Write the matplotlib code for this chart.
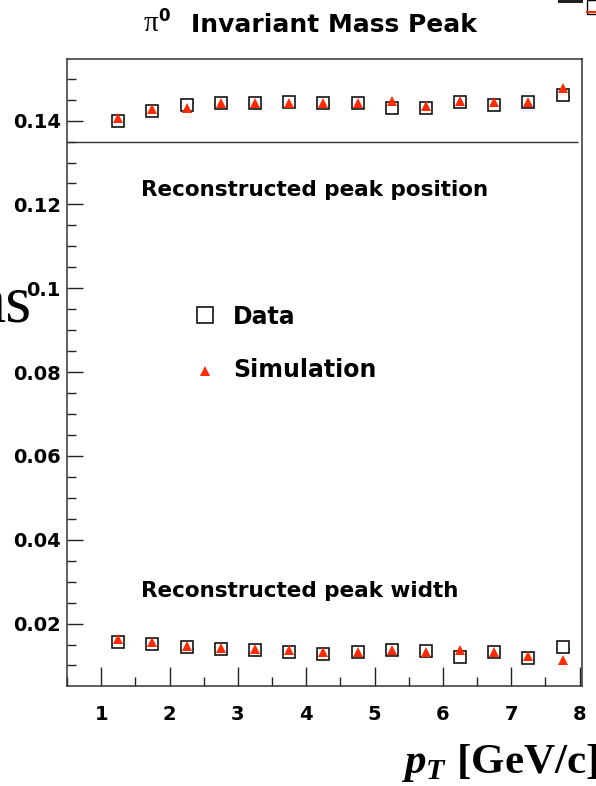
import matplotlib.pyplot as plt
from matplotlib.ticker import MultipleLocator, FuncFormatter
from matplotlib.patches import Rectangle
from matplotlib.lines import Line2D

W, H = 596, 786

# pT bin centres [GeV/c]
pt = [1.25, 1.75, 2.25, 2.75, 3.25, 3.75, 4.25, 4.75, 5.25, 5.75, 6.25, 6.75, 7.25, 7.75]

# reconstructed pi0 peak position [GeV/c^2]
mass_data = [0.1398, 0.1424, 0.1437, 0.1442, 0.1442, 0.1444, 0.1442,
             0.1442, 0.1431, 0.1431, 0.1445, 0.1437, 0.1445, 0.1460]
mass_sim = [0.1407, 0.1428, 0.1429, 0.1441, 0.1441, 0.1441, 0.1441,
            0.1441, 0.1446, 0.1435, 0.1446, 0.1445, 0.1445, 0.1477]

# reconstructed pi0 peak width [GeV/c^2]
width_data = [0.0157, 0.0151, 0.0144, 0.0140, 0.0136, 0.0133, 0.0127,
              0.0132, 0.0137, 0.0134, 0.0121, 0.0133, 0.0119, 0.0144]
width_sim = [0.0164, 0.0157, 0.0146, 0.0141, 0.0139, 0.0137, 0.0133,
             0.0133, 0.0136, 0.0133, 0.0137, 0.0133, 0.0122, 0.0112]

PI0_MASS = 0.135
RED = '#ff2a00'
SANS = 'DejaVu Sans'
SERIF = 'Liberation Serif'


def fx(x):
    return x / W


def fy(y):
    return 1 - y / H


fig = plt.figure(figsize=(W / 100, H / 100), dpi=100)
ax = fig.add_axes([fx(67), fy(686), fx(581.7) - fx(67), fy(59) - fy(686)])

# data first, simulation drawn on top
for vals in (mass_data, width_data):
    ax.plot(pt, vals, ls='none', marker='s', ms=8.8, mfc='white',
            mec='black', mew=1.1, zorder=3)
for vals in (mass_sim, width_sim):
    ax.plot(pt, vals, ls='none', marker='^', ms=7.4, color=RED, mew=0, zorder=4)

# nominal pi0 mass
ax.hlines(PI0_MASS, 0.5, 7.98, color='#333333', lw=1.0, zorder=2)

ax.set_xlim(0.5, 8.03)
ax.set_ylim(0.0051, 0.1547)

ax.xaxis.set_major_locator(MultipleLocator(1))
ax.xaxis.set_minor_locator(MultipleLocator(0.5))
ax.yaxis.set_major_locator(MultipleLocator(0.02))
ax.yaxis.set_minor_locator(MultipleLocator(0.005))
ax.yaxis.set_major_formatter(FuncFormatter(lambda v, p: f'{v:g}'))

ax.tick_params(axis='x', which='both', direction='in', top=False, width=1.0, color='#222222')
ax.tick_params(axis='x', which='major', length=13.4, pad=14)
ax.tick_params(axis='x', which='minor', length=6.7)
ax.tick_params(axis='y', which='both', direction='in', right=False, width=1.0, color='#222222')
ax.tick_params(axis='y', which='major', length=11.5, pad=4.5)
ax.tick_params(axis='y', which='minor', length=6.5)

for lab in ax.get_xticklabels() + ax.get_yticklabels():
    lab.set_fontfamily(SANS)
    lab.set_fontweight('bold')
    lab.set_fontsize(14)

for sp in ax.spines.values():
    sp.set_linewidth(1.1)
    sp.set_color('#333333')

# annotations inside the frame
ax.text(0.1438, 0.7815, 'Reconstructed peak position', transform=ax.transAxes,
        family=SANS, weight='bold', fontsize=15.5, ha='left', va='baseline')
ax.text(0.1438, 0.1424, 'Reconstructed peak width', transform=ax.transAxes,
        family=SANS, weight='bold', fontsize=15.5, ha='left', va='baseline')

# legend
ax.add_line(Line2D([0.268], [0.591], transform=ax.transAxes, ls='none', marker='s',
                   ms=11, mfc='white', mec='black', mew=1.1))
ax.add_line(Line2D([0.269], [0.5016], transform=ax.transAxes, ls='none', marker='^',
                   ms=7.2, color=RED, mew=0))
ax.text(0.3225, 0.5774, 'Data', transform=ax.transAxes, family=SANS, weight='bold',
        fontsize=17, ha='left', va='baseline')
ax.text(0.3225, 0.4928, 'Simulation', transform=ax.transAxes, family=SANS, weight='bold',
        fontsize=17, ha='left', va='baseline')

# title
fig.text(fx(144), fy(31), '\u03c0', family=SERIF, fontsize=21, ha='left', va='baseline')
fig.text(fx(158), fy(20.7), '0', family=SANS, weight='bold', fontsize=12,
         ha='left', va='baseline')
fig.text(fx(190.7), fy(31.7), 'Invariant Mass Peak', family=SANS, weight='bold',
         fontsize=18, ha='left', va='baseline')

# axis title
plt.rcParams['mathtext.fontset'] = 'custom'
plt.rcParams['mathtext.bfit'] = 'Liberation Serif:italic:bold'
fig.text(fx(598), fy(773), r'$\mathbfit{p}_{\mathbfit{T}}$ [GeV/c]', family=SERIF,
         weight='bold', fontsize=31, ha='right', va='baseline')

# clipped leftover text at the left edge
fig.text(fx(32), fy(321), 'ns', family=SERIF, fontsize=48, ha='right', va='baseline')

# clipped leftover legend piece at the top right
fig.patches.append(Rectangle((fx(558), fy(3)), fx(25), 3 / H, transform=fig.transFigure,
                             color='#222222', lw=0))
fig.patches.append(Rectangle((fx(586.5), fy(14)), fx(12), 14 / H, transform=fig.transFigure,
                             fill=False, ec='black', lw=1.0))
fig.lines.append(Line2D([fx(587), fx(596)], [fy(12), fy(12)], transform=fig.transFigure,
                        color=RED, lw=1.5))

fig.savefig('out.png', dpi=100)
